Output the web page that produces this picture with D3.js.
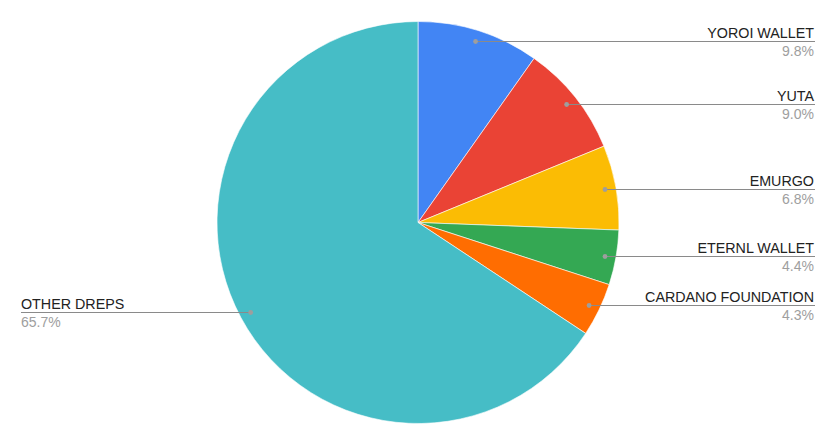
<!DOCTYPE html>
<html>
<head>
<meta charset="utf-8">
<script src="https://cdn.jsdelivr.net/npm/d3@7"></script>
<style>
  body { margin: 0; background: #fff; }
  svg { display: block; font-family: Arial, "Liberation Sans", sans-serif; }
</style>
</head>
<body>
<svg id="chart"></svg>
<script>
const width = 831
const height = 438

// slice data, clockwise from 12 o'clock
const names = ['YOROI WALLET', 'YUTA', 'EMURGO', 'ETERNL WALLET', 'CARDANO FOUNDATION', 'OTHER DREPS'];
const shares = [9.8, 9.0, 6.8, 4.4, 4.3, 65.7];
const colors = ['#4285f4', '#ea4335', '#fbbc04', '#34a853', '#ff6d01', '#46bdc6'];

const cx = 418, cy = 222.5, radius = 201;

const svg = d3.select('#chart')
  .attr('width', width)
  .attr('height', height)

const slices = d3.pie().sort(null).value(d => d)(shares)
const arc = d3.arc().innerRadius(0).outerRadius(radius)

const g = svg.append('g').attr('transform', `translate(${cx},${cy})`)

g.selectAll('path')
  .data(slices)
  .join('path')
  .attr('d', arc)
  .attr('fill', (d, i) => colors[i])
  .attr('stroke', '#fff')
  .attr('stroke-width', 0.6)

// callouts: dot sits inside slice at ~0.95 r, line runs out to the chart edge
const dotR = radius * 0.945
const labels = slices.map((d, i) => {
  const a = (d.startAngle + d.endAngle) / 2
  return {
    name: names[i],
    pct: shares[i].toFixed(1) + '%',
    x: cx + Math.sin(a) * dotR,
    y: Math.round(cy - Math.cos(a) * dotR) + 0.5,
    right: Math.sin(a) >= 0
  }
})

const lab = svg.append('g').selectAll('g')
  .data(labels)
  .join('g')

lab.append('line')
  .attr('x1', d => d.x)
  .attr('y1', d => d.y)
  .attr('x2', d => d.right ? 815 : 21)
  .attr('y2', d => d.y)
  .attr('stroke', '#8a8a8a')
  .attr('stroke-width', 1)

lab.append('circle')
  .attr('cx', d => d.x)
  .attr('cy', d => d.y)
  .attr('r', 2.4)
  .attr('fill', '#9e9e9e')

lab.append('text')
  .attr('x', d => d.right ? 814 : 21)
  .attr('y', d => d.y - 4)
  .attr('text-anchor', d => d.right ? 'end' : 'start')
  .attr('font-size', 14.3)
  .attr('fill', '#222')
  .text(d => d.name)

lab.append('text')
  .attr('x', d => d.right ? 814 : 21)
  .attr('y', d => d.y + 14.5)
  .attr('text-anchor', d => d.right ? 'end' : 'start')
  .attr('font-size', 14)
  .attr('fill', '#9e9e9e')
  .text(d => d.pct)
</script>
</body>
</html>
